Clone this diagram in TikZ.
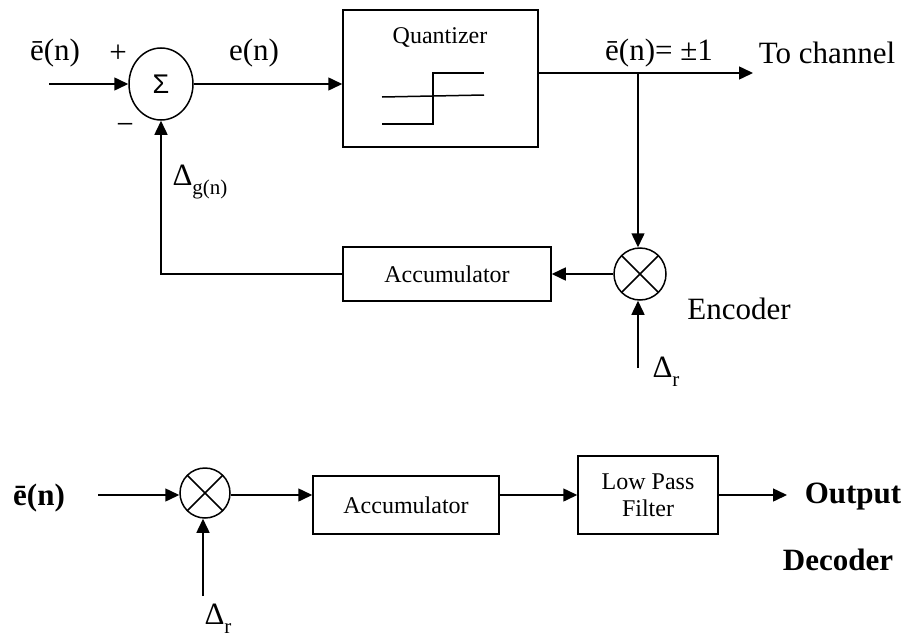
\documentclass[tikz,border=0pt]{standalone}
\usepackage{fontspec}
\setmainfont{Liberation Serif}
\newfontfamily\sigmafont{Liberation Sans}
\usetikzlibrary{arrows.meta, shapes.geometric}

\newcommand{\bigtext}{\fontsize{31}{34}\selectfont}
\newcommand{\smalltext}{\fontsize{24}{27}\selectfont}
\newcommand{\lowsub}[1]{\raisebox{-0.28em}{\fontsize{21}{21}\selectfont #1}}

\tikzset{
	wire/.style={line width=1.5pt},
	block/.style={draw, line width=1.5pt, rectangle, inner sep=0pt, align=center, font=\smalltext},
	sumnode/.style={draw, line width=1.5pt, ellipse, minimum width=64pt, minimum height=72pt, inner sep=0pt},
	mixnode/.style={draw, line width=1.5pt, circle, minimum size=#1, inner sep=0pt,
		path picture={\draw[line width=1.5pt] (path picture bounding box.north west) -- (path picture bounding box.south east)
			(path picture bounding box.north east) -- (path picture bounding box.south west);}},
	lbl/.style={font=\bigtext, inner sep=0pt},
	>={Triangle[length=14pt, width=13pt]}
}

\begin{document}
\begin{tikzpicture}[x=1pt, y=-1pt]
	\useasboundingbox (0,0) rectangle (907,637);

	% encoder
	\node[sumnode] (sum) at (161,84) {\sigmafont\fontsize{27}{27}\selectfont Σ};
	\node[block, minimum width=195pt, minimum height=137pt] (quant) at (440.5,78.5) {};
	\node[font=\smalltext, inner sep=0pt] (qname) at (440,37) {Quantizer};
	\node[mixnode=52pt] (mix) at (640,274) {};
	\node[block, minimum width=208pt, minimum height=54pt] (acc) at (447,274) {Accumulator};

	\coordinate (ein) at (49,84);
	\coordinate (tap) at (638,73);
	\coordinate (chan) at (753,73);
	\coordinate (dr) at (638,368);

	\draw [wire] (382,124) -- (433,124) -- (433,73) -- (484,73);
	\draw [wire] (382,97) -- (484,95);

	\draw [wire, ->] (ein) -- (sum.west);
	\draw [wire, ->] (sum.east) -- (quant.west |- sum.east);
	\draw [wire, ->] (quant.east |- tap) -- (chan);
	\draw [wire, ->] (tap) -- (mix.north -| tap);
	\draw [wire, ->] (dr) -- (mix.south -| dr);
	\draw [wire, ->] (mix.west) -- (acc.east);
	\draw [wire, ->] (acc.west) -| (sum.south);

	\node[lbl] (ebar) at (55,53) {ē(n)};
	\node[lbl] (plus) at (118,54) {+};
	\node[lbl] (minus) at (125,129) {−};
	\node[lbl] (en) at (254,53) {e(n)};
	\node[lbl] (eout) at (659,53) {ē(n)= ±1};
	\node[lbl] (tochan) at (827,53) {To channel};
	\node[lbl] (dg) at (200,182) {Δ\lowsub{g(n)}};
	\node[lbl] (enc) at (739,309) {Encoder};
	\node[lbl] (drl) at (666,372) {Δ\lowsub{r}};

	% decoder
	\node[mixnode=50pt] (mix2) at (205,493) {};
	\node[block, minimum width=186pt, minimum height=58pt] (acc2) at (406,505) {Accumulator};
	\node[block, minimum width=140pt, minimum height=78pt] (lpf) at (648,495) {Low Pass\\Filter};

	\coordinate (ein2) at (98,495);
	\coordinate (dr2) at (203,596);
	\coordinate (out) at (787,495);

	\draw [wire, ->] (ein2) -- (ein2 -| mix2.west);
	\draw [wire, ->] (dr2) -- (mix2.south -| dr2);
	\draw [wire, ->] (ein2 -| mix2.east) -- (ein2 -| acc2.west);
	\draw [wire, ->] (ein2 -| acc2.east) -- (lpf.west);
	\draw [wire, ->] (lpf.east) -- (out);

	\node[lbl, font=\bigtext\bfseries] (ebar2) at (39,498) {ē(n)};
	\node[lbl] (drl2) at (218,619) {Δ\lowsub{r}};
	\node[lbl, font=\bigtext\bfseries] (outl) at (853,497) {Output};
	\node[lbl, font=\bigtext\bfseries] (dec) at (838,560) {Decoder};
\end{tikzpicture}
\end{document}
